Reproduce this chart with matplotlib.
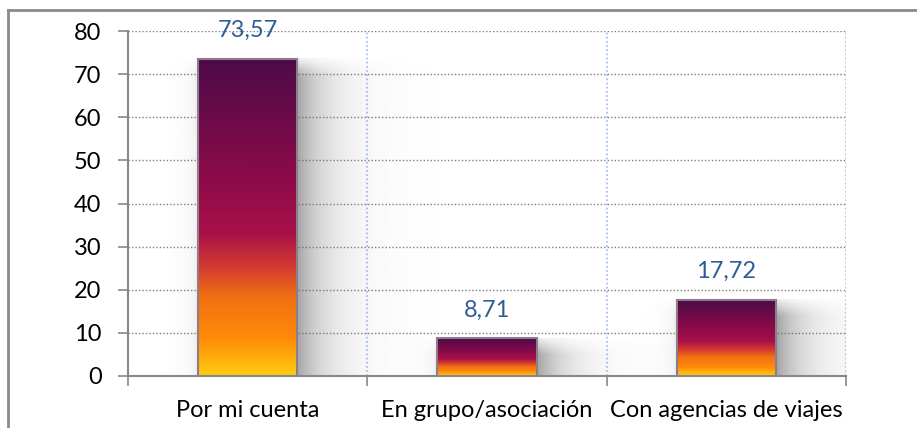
import numpy as np
import matplotlib.pyplot as plt
from matplotlib.colors import LinearSegmentedColormap
from matplotlib.lines import Line2D

categories = ["Por mi cuenta", "En grupo/asociación", "Con agencias de viajes"]
values = [73.57, 8.71, 17.72]
value_labels = ["73,57", "8,71", "17,72"]
y_ticks = [0, 10, 20, 30, 40, 50, 60, 70, 80]

plt.rcParams["font.family"] = ["Lato", "DejaVu Sans"]

grad = LinearSegmentedColormap.from_list(
    "bar",
    [
        (0.0, "#ffcc10"),
        (0.12, "#ff8a08"),
        (0.25, "#f07012"),
        (0.33, "#d8402e"),
        (0.45, "#a81048"),
        (0.65, "#880a4a"),
        (1.0, "#4c0a48"),
    ],
)

fig = plt.figure(figsize=(9.17, 4.28), dpi=100)
ax = fig.add_axes([128 / 917, 1 - 376 / 428, 718 / 917, 345 / 428])

width = 0.414
x = np.arange(len(categories))
bars = ax.bar(x, values, width=width, color="none", edgecolor="#8c7c8c", linewidth=1.5, zorder=4)

g = np.linspace(0, 1, 256).reshape(-1, 1)
for b in bars:
    x0, h = b.get_x(), b.get_height()
    ax.imshow(g, cmap=grad, origin="lower", aspect="auto",
              extent=(x0, x0 + width, 0, h), zorder=3)
    # soft shadow
    xs = np.linspace(x0 - 0.15, x0 + width + 0.6, 300)
    ys = np.linspace(0, h, 100)
    X, Y = np.meshgrid(xs, ys)
    a = np.zeros_like(X)
    right = X > x0 + width
    a[right] = 0.6 * np.exp(-(X[right] - x0 - width) / 0.12)
    left = X < x0
    a[left] = 0.12 * np.exp(-(x0 - X[left]) / 0.04)
    a *= np.clip((h - Y) / (0.06 * 80) + 0.2, 0, 1)
    img = np.zeros(X.shape + (4,))
    img[..., :3] = 0.4
    img[..., 3] = a
    ax.imshow(img, origin="lower", aspect="auto",
              extent=(xs[0], xs[-1], 0, h), zorder=2)

for xi, v, lab in zip(x, values, value_labels):
    ax.annotate(lab, (xi, v), xytext=(0, 13), textcoords="offset points",
                ha="center", va="bottom", color="#2e5c96", fontsize=17)

ax.set_xlim(-0.5, 2.5)
ax.set_ylim(0, 80)
ax.set_yticks(y_ticks)
ax.set_yticklabels([str(t) for t in y_ticks], fontsize=17)
ax.set_xticks(x)
ax.set_xticklabels(categories, fontsize=17)
ax.tick_params(axis="x", which="major", length=0, pad=17)
ax.set_xticks([-0.5, 0.5, 1.5, 2.5], minor=True)
ax.tick_params(axis="x", which="minor", length=7, color="#888888", width=1.2)
ax.tick_params(axis="y", length=7, color="#888888", width=1.2, pad=12)

for t in y_ticks[1:]:
    ax.axhline(t, color="#7f7f7f", linestyle=(0, (1, 1.5)), linewidth=1, zorder=1)
for b in [0.5, 1.5, 2.5]:
    ax.axvline(b, color="#9db8f0", linestyle=(0, (1, 1.5)), linewidth=1.2, zorder=1)

for s in ["top", "right"]:
    ax.spines[s].set_visible(False)
for s in ["left", "bottom"]:
    ax.spines[s].set_color("#888888")
    ax.spines[s].set_linewidth(1.5)
    ax.spines[s].set_zorder(5)

# outer chart border
fig.add_artist(Line2D([8 / 917, 1], [1 - 10 / 428, 1 - 10 / 428], color="#8a8a8a", linewidth=2))
fig.add_artist(Line2D([8 / 917, 8 / 917], [0, 1 - 10 / 428], color="#8a8a8a", linewidth=2))

fig.savefig("out.png", dpi=100)
